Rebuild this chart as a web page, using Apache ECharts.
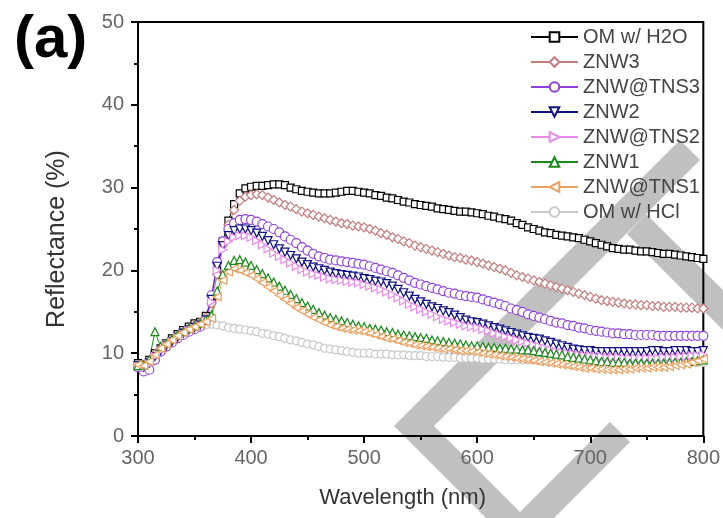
<!DOCTYPE html>
<html>
<head>
<meta charset="utf-8">
<script src="https://cdn.jsdelivr.net/npm/echarts@6/dist/echarts.min.js"></script>
<style>
  html, body { margin: 0; padding: 0; background: #fff; }
  #chart { width: 723px; height: 518px; }
</style>
</head>
<body>
<div id="chart"></div>
<script>
// wavelength grid, 300..800 nm every 5 nm
var wavelength = [];
for (var w = 300; w <= 800; w += 5) { wavelength.push(w); }

var seriesNames = ['OM w/ H2O', 'ZNW3', 'ZNW@TNS3', 'ZNW2', 'ZNW@TNS2', 'ZNW1', 'ZNW@TNS1', 'OM w/ HCl'];

var omH2O = [
  8.8, 8.6, 9.2, 10.0, 10.6, 11.2, 11.8, 12.3, 12.8, 13.2,
  13.6, 13.8, 14.5, 16.5, 20.0, 23.5, 26.0, 28.0, 29.3, 29.9,
  30.1, 30.2, 30.2, 30.3, 30.4, 30.4, 30.3, 30.0, 29.8, 29.6,
  29.5, 29.4, 29.3, 29.3, 29.3, 29.4, 29.5, 29.6, 29.6, 29.5,
  29.4, 29.3, 29.1, 29.0, 28.8, 28.7, 28.5, 28.3, 28.2, 28.0,
  27.9, 27.8, 27.7, 27.5, 27.4, 27.3, 27.2, 27.1, 27.1, 27.0,
  26.9, 26.8, 26.6, 26.5, 26.3, 26.2, 26.0, 25.7, 25.5, 25.2,
  25.0, 24.8, 24.6, 24.5, 24.3, 24.2, 24.1, 24.0, 23.9, 23.7,
  23.5, 23.3, 23.1, 22.9, 22.7, 22.6, 22.5, 22.5, 22.4, 22.3,
  22.3, 22.2, 22.1, 22.0, 22.0, 21.9, 21.8, 21.7, 21.6, 21.5,
  21.4
];
var znw3 = [
  8.6, 8.5, 9.0, 9.9, 10.5, 11.0, 11.6, 12.1, 12.6, 13.0,
  13.4, 13.7, 14.3, 16.0, 19.5, 23.0, 25.5, 27.3, 28.4, 28.9,
  29.1, 29.2, 29.1, 28.8, 28.5, 28.2, 27.9, 27.7, 27.4, 27.1,
  26.9, 26.7, 26.5, 26.3, 26.1, 25.9, 25.7, 25.6, 25.4, 25.3,
  25.2, 25.0, 24.8, 24.5, 24.3, 24.0, 23.8, 23.5, 23.3, 23.0,
  22.8, 22.6, 22.4, 22.2, 22.0, 21.8, 21.6, 21.5, 21.3, 21.2,
  21.0, 20.8, 20.6, 20.4, 20.2, 20.0, 19.7, 19.4, 19.2, 19.0,
  18.8, 18.6, 18.4, 18.2, 18.0, 17.8, 17.6, 17.4, 17.2, 17.0,
  16.8, 16.6, 16.4, 16.3, 16.2, 16.1, 16.0, 15.9, 15.9, 15.8,
  15.8, 15.7, 15.7, 15.6, 15.6, 15.6, 15.5, 15.5, 15.5, 15.4,
  15.4
];
var znwTns3 = [
  8.3, 7.8, 8.0, 9.2, 10.2, 10.8, 11.3, 11.8, 12.2, 12.6,
  12.9, 13.2, 14.0, 17.0, 21.0, 23.5, 25.0, 25.7, 26.1, 26.2,
  26.1, 25.9, 25.6, 25.3, 25.0, 24.6, 24.1, 23.7, 23.3, 22.8,
  22.4, 22.0, 21.7, 21.5, 21.3, 21.2, 21.1, 21.0, 20.9, 20.8,
  20.7, 20.5, 20.3, 20.1, 19.9, 19.7, 19.4, 19.1, 18.8, 18.5,
  18.3, 18.1, 17.9, 17.7, 17.5, 17.3, 17.2, 17.0, 16.9, 16.8,
  16.7, 16.5, 16.3, 16.1, 15.9, 15.7, 15.4, 15.2, 15.0, 14.7,
  14.5, 14.3, 14.1, 13.9, 13.7, 13.6, 13.4, 13.3, 13.1, 13.0,
  12.8, 12.7, 12.6, 12.5, 12.4, 12.4, 12.3, 12.3, 12.2, 12.2,
  12.2, 12.2, 12.1, 12.1, 12.1, 12.1, 12.1, 12.1, 12.1, 12.1,
  12.1
];
var znw2 = [
  8.5, 8.3, 8.8, 9.6, 10.3, 10.9, 11.4, 11.9, 12.4, 12.8,
  13.1, 13.4, 14.0, 16.5, 20.5, 23.0, 24.2, 24.8, 25.0, 25.0,
  24.8, 24.5, 24.1, 23.6, 23.1, 22.6, 22.2, 21.8, 21.4, 21.0,
  20.7, 20.4, 20.2, 20.0, 19.8, 19.6, 19.5, 19.4, 19.3, 19.2,
  19.0, 18.9, 18.7, 18.6, 18.4, 18.1, 17.7, 17.3, 16.9, 16.5,
  16.2, 15.9, 15.6, 15.4, 15.1, 14.9, 14.6, 14.3, 14.0, 13.8,
  13.7, 13.5, 13.3, 13.1, 12.9, 12.7, 12.5, 12.3, 12.1, 11.9,
  11.8, 11.7, 11.5, 11.3, 11.1, 10.9, 10.7, 10.5, 10.4, 10.3,
  10.3, 10.2, 10.2, 10.2, 10.2, 10.2, 10.2, 10.2, 10.2, 10.2,
  10.2, 10.3, 10.3, 10.2, 10.2, 10.3, 10.3, 10.3, 10.2, 10.2,
  10.3
];
var znwTns2 = [
  8.4, 8.2, 8.7, 9.6, 10.3, 10.9, 11.4, 11.9, 12.3, 12.7,
  13.0, 13.3, 13.9, 16.2, 20.0, 22.5, 23.5, 24.0, 24.2, 24.2,
  24.0, 23.6, 23.1, 22.6, 22.1, 21.7, 21.3, 20.9, 20.5, 20.1,
  19.8, 19.6, 19.4, 19.2, 19.0, 18.9, 18.8, 18.7, 18.6, 18.5,
  18.3, 18.1, 17.9, 17.7, 17.4, 17.1, 16.7, 16.3, 15.9, 15.6,
  15.3, 15.0, 14.7, 14.4, 14.1, 13.9, 13.7, 13.5, 13.3, 13.2,
  13.1, 12.9, 12.7, 12.4, 12.2, 12.0, 11.8, 11.6, 11.4, 11.2,
  11.0, 10.8, 10.6, 10.4, 10.2, 10.1, 10.0, 9.9, 9.8, 9.7,
  9.7, 9.6, 9.6, 9.5, 9.5, 9.5, 9.4, 9.4, 9.4, 9.4,
  9.4, 9.4, 9.4, 9.5, 9.5, 9.5, 9.6, 9.6, 9.7, 9.7,
  9.8
];
var znw1 = [
  8.5, 8.6, 9.2, 12.6, 10.8, 11.2, 11.7, 12.2, 12.6, 13.0,
  13.3, 13.6, 14.0, 14.6, 17.5, 19.5, 20.6, 21.2, 21.3, 21.0,
  20.6, 20.1, 19.6, 19.1, 18.6, 18.1, 17.6, 17.1, 16.6, 16.1,
  15.7, 15.3, 14.9, 14.6, 14.3, 14.1, 13.9, 13.7, 13.5, 13.3,
  13.2, 13.0, 12.9, 12.8, 12.6, 12.5, 12.3, 12.2, 12.1, 12.0,
  11.9, 11.8, 11.6, 11.5, 11.4, 11.3, 11.2, 11.1, 11.0, 10.9,
  10.9, 10.8, 10.7, 10.7, 10.6, 10.6, 10.5, 10.5, 10.4, 10.4,
  10.3, 10.2, 10.1, 10.0, 9.9, 9.8, 9.6, 9.5, 9.4, 9.3,
  9.2, 9.1, 9.0, 9.0, 8.9, 8.9, 8.9, 8.8, 8.8, 8.8,
  8.8, 8.8, 8.8, 8.8, 8.9, 8.9, 8.9, 9.0, 9.0, 9.1,
  9.2
];
var znwTns1 = [
  8.6, 8.5, 9.0, 9.8, 10.6, 11.1, 11.6, 12.1, 12.5, 12.9,
  13.2, 13.5, 13.8, 14.2, 16.8, 18.8, 19.8, 20.2, 20.0, 19.7,
  19.4, 19.0, 18.5, 18.0, 17.5, 17.0, 16.5, 16.0, 15.5, 15.1,
  14.7, 14.3, 14.0, 13.7, 13.4, 13.2, 13.0, 12.9, 12.8, 12.7,
  12.6, 12.4, 12.2, 12.0, 11.8, 11.7, 11.5, 11.3, 11.2, 11.0,
  10.9, 10.8, 10.7, 10.6, 10.5, 10.5, 10.4, 10.3, 10.3, 10.2,
  10.1, 10.0, 9.9, 9.8, 9.7, 9.6, 9.5, 9.4, 9.3, 9.2,
  9.1, 9.0, 8.9, 8.8, 8.7, 8.6, 8.5, 8.4, 8.3, 8.2,
  8.2, 8.1, 8.1, 8.0, 8.0, 8.0, 8.1, 8.1, 8.2, 8.2,
  8.2, 8.3, 8.3, 8.3, 8.4, 8.5, 8.6, 8.7, 8.9, 9.1,
  9.3
];
var omHCl = [
  8.6, 8.4, 8.9, 9.7, 10.4, 10.9, 11.4, 11.9, 12.3, 12.7,
  13.0, 13.2, 13.4, 13.5, 13.4, 13.3, 13.1, 13.0, 12.9, 12.8,
  12.7, 12.6, 12.4, 12.3, 12.1, 12.0, 11.8, 11.6, 11.5, 11.3,
  11.1, 11.0, 10.8, 10.6, 10.5, 10.4, 10.3, 10.2, 10.1, 10.0,
  10.0, 10.0, 9.9, 9.9, 9.9, 9.8, 9.8, 9.8, 9.7, 9.7,
  9.7, 9.6, 9.6, 9.6, 9.5, 9.5, 9.5, 9.4, 9.4, 9.4,
  9.4, 9.3, 9.3, 9.3, 9.3, 9.2, 9.2, 9.2, 9.2, 9.2,
  9.2, 9.1, 9.1, 9.1, 9.1, 9.1, 9.0, 9.0, 9.0, 9.0,
  9.0, 9.0, 9.0, 9.0, 8.9, 8.9, 8.9, 8.9, 8.9, 8.9,
  8.9, 8.9, 8.9, 8.9, 8.9, 8.9, 8.9, 8.9, 8.9, 8.9,
  8.9
];

var xTicks = [300, 400, 500, 600, 700, 800];
var yTicks = [0, 10, 20, 30, 40, 50];

var allValues = [omH2O, znw3, znwTns3, znw2, znwTns2, znw1, znwTns1, omHCl];
var colors = ['#000000', '#c47c7c', '#9040e0', '#101080', '#e88ae8', '#1a8a1a', '#eea060', '#c8c8c8'];
var symbols = ['rect', 'diamond', 'circle', 'triangle', 'triangle', 'triangle', 'triangle', 'circle'];
var rotates = [0, 0, 0, 180, -90, 0, 90, 0];
var sizes = [7, 9, 9, 8, 8, 8, 8, 8];
var zs = [3, 3, 3, 3, 3, 3, 3, 2];

var font = 'Liberation Sans, Arial, sans-serif';

function pairs(vals) {
    var out = [];
    for (var i = 0; i < wavelength.length; i++) { out.push([wavelength[i], vals[i]]); }
    return out;
}

var series = [];
for (var s = 0; s < seriesNames.length; s++) {
    series.push({
        name: seriesNames[s],
        type: 'line',
        data: pairs(allValues[s]),
        symbol: symbols[s],
        symbolSize: sizes[s],
        symbolRotate: rotates[s],
        z: zs[s],
        lineStyle: { color: colors[s], width: 1 },
        itemStyle: { color: '#ffffff', borderColor: colors[s], borderWidth: 1.2 }
    });
}

// gray watermark bands seen in the picture
var band = '#c0c0c0';
var graphics = [
    { type: 'polygon', z: -1, silent: true,
      shape: { points: [[394, 426], [680, 140], [700, 160], [434, 426], [526, 518], [486, 518]] },
      style: { fill: band } },
    { type: 'polygon', z: -1, silent: true,
      shape: { points: [[514, 518], [610, 422], [630, 442], [554, 518]] },
      style: { fill: band } },
    { type: 'polygon', z: -1, silent: true,
      shape: { points: [[646, 214], [723, 290], [723, 330], [627, 234]] },
      style: { fill: band } },
    { type: 'text', left: 14, top: 10, z: 10,
      style: { text: '(a)', font: 'bold 60px ' + font, fill: '#000' } }
];

var option = {
    animation: false,
    backgroundColor: '#ffffff',
    color: colors,
    grid: {
        left: 138, right: 19, top: 22, bottom: 82,
        show: true, borderColor: '#000', borderWidth: 2, backgroundColor: 'transparent'
    },
    legend: {
        orient: 'vertical',
        left: 525, top: 22,
        itemWidth: 47, itemHeight: 12, itemGap: 5,
        textStyle: { fontFamily: font, fontSize: 20, color: '#444', lineHeight: 20 },
        data: seriesNames
    },
    xAxis: {
        type: 'value', min: 300, max: 800, interval: 100,
        name: 'Wavelength (nm)', nameLocation: 'middle', nameGap: 51,
        nameTextStyle: { fontFamily: font, fontSize: 22, color: '#333', padding: [0, 36, 0, 0] },
        axisLine: { lineStyle: { color: '#000', width: 2 } },
        axisTick: { inside: false, length: 7, lineStyle: { color: '#000', width: 2 } },
        minorTick: { show: true, splitNumber: 2, length: 4, lineStyle: { color: '#000', width: 2 } },
        axisLabel: { fontFamily: font, fontSize: 20, color: '#666', margin: 12,
            formatter: function (v) { return xTicks.indexOf(v) >= 0 ? String(v) : ''; } },
        splitLine: { show: false }
    },
    yAxis: {
        type: 'value', min: 0, max: 50, interval: 10,
        name: 'Reflectance (%)', nameLocation: 'middle', nameGap: 68,
        nameTextStyle: { fontFamily: font, fontSize: 25, color: '#333', padding: [0, 20, 0, 0] },
        axisLine: { lineStyle: { color: '#000', width: 2 } },
        axisTick: { inside: false, length: 7, lineStyle: { color: '#000', width: 2 } },
        minorTick: { show: true, splitNumber: 2, length: 4, lineStyle: { color: '#000', width: 2 } },
        axisLabel: { fontFamily: font, fontSize: 20, color: '#666', margin: 14,
            formatter: function (v) { return yTicks.indexOf(v) >= 0 ? String(v) : ''; } },
        splitLine: { show: false }
    },
    graphic: graphics,
    series: series
};

var myChart = echarts.init(document.getElementById('chart'), null, { renderer: 'canvas' });
myChart.setOption(option);
</script>
</body>
</html>
